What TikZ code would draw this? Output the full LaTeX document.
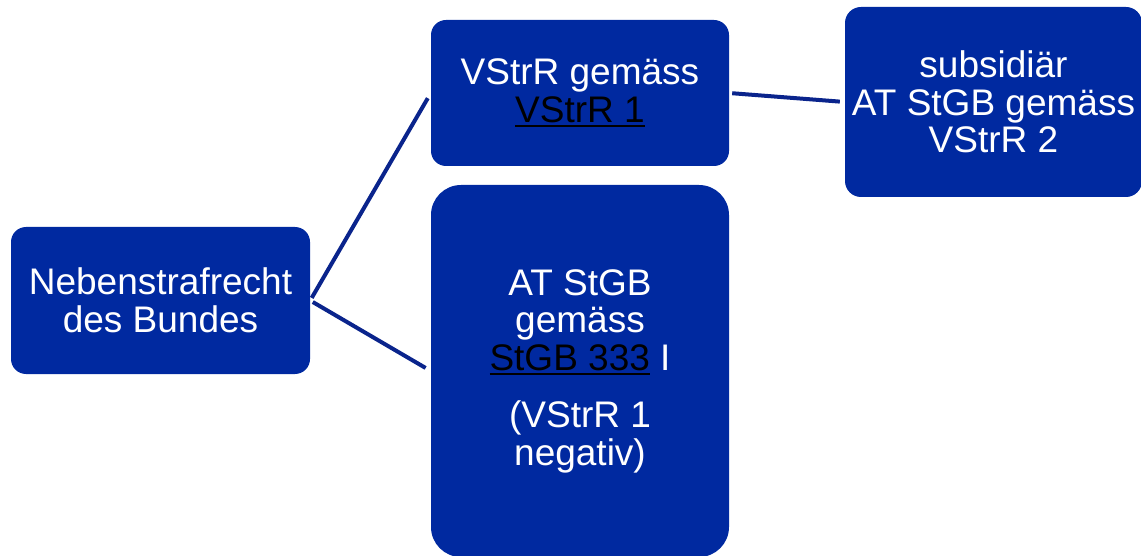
\documentclass[tikz,border=0pt]{standalone}
\usepackage{fontspec}
\setmainfont{Liberation Sans}
\newcommand{\ulblack}[1]{{\color{black}\setbox0\hbox{#1}\rlap{\rule[-5pt]{\wd0}{2pt}}\box0}}
\definecolor{boxblue}{RGB}{0,41,160}
\definecolor{linenavy}{RGB}{10,36,140}
\begin{document}
\begin{tikzpicture}[x=1pt,y=-1pt,
  box/.style={draw=none,fill=boxblue,text=white,align=center,inner sep=0pt,
    font=\fontsize{37}{37.5}\selectfont},
  conn/.style={draw=linenavy,line width=4pt}]
\useasboundingbox (0,0) rectangle (1141,556);
\node[box,minimum width=299pt,minimum height=147pt,rounded corners=15pt] (A) at (160.5,300.5)
  {Nebenstrafrecht\\des Bundes};
\node[box,minimum width=298pt,minimum height=146pt,rounded corners=15pt] (B) at (580,93)
  {VStrR gemäss\\\ulblack{VStrR 1}};
\node[box,minimum width=297pt,minimum height=190pt,rounded corners=16pt] (C) at (993.5,102)
  {subsidiär\\AT StGB gemäss\\VStrR 2};
\node[box,minimum width=298pt,minimum height=372pt,rounded corners=30pt] (D) at (580,371)
  {AT StGB\\gemäss\\\ulblack{StGB 333} I\\[20pt](VStrR 1\\negativ)};
\draw[conn,shorten <=3pt,shorten >=6pt] (A.east) -- (B.west);
\draw[conn,shorten <=3pt,shorten >=6pt] (A.east) -- (D.west);
\draw[conn,shorten <=3pt,shorten >=5pt] (B.east) -- (C.west);
\end{tikzpicture}
\end{document}
